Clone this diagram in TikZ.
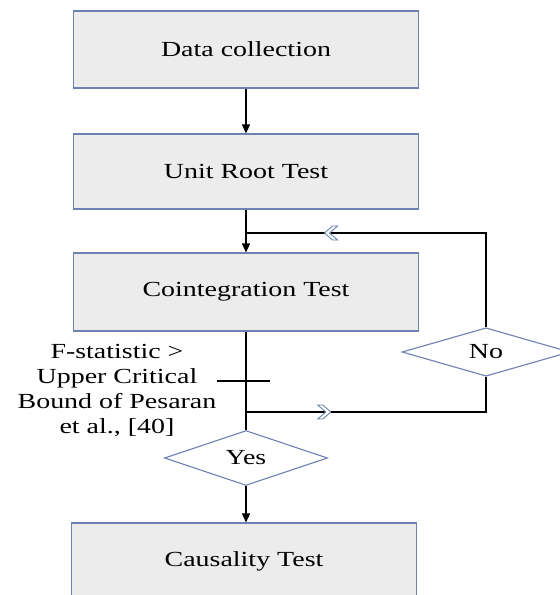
\documentclass[tikz,border=0pt]{standalone}
\usepackage{fontspec}
\setmainfont[FakeStretch=1.3]{Liberation Serif}
\usepackage{xcolor}
\usetikzlibrary{shapes.geometric, arrows.meta, positioning, calc, decorations.markings}
\definecolor{boxbg}{RGB}{236,236,237}
\definecolor{boxline}{RGB}{108,130,178}

\begin{document}
\begin{tikzpicture}[x=1pt, y=-1pt,
  box/.style={rectangle, minimum width=345pt, minimum height=77pt, draw=boxline, line width=1.1pt, fill=boxbg, font=\fontsize{21.5}{25}\selectfont},
  choice/.style={diamond, minimum width=163pt, minimum height=39pt, inner sep=0pt, draw=boxline, line width=1.1pt, fill=white, font=\fontsize{21.5}{25}\selectfont},
  arr/.style={-{Triangle[length=9pt, width=8pt]}, line width=1.2pt, black},
  ln/.style={line width=1.2pt, black},
  chev/.style={postaction={decorate}, decoration={markings, mark=at position #1 with {\draw[boxline, fill=white, line width=0.9pt] (-8,-7) -- (-3,-7) -- (5,0) -- (-3,7) -- (-8,7) -- (0,0) -- cycle;}}}
]
\clip (0,0) rectangle (560,595);
\fill[white] (0,0) rectangle (560,595);

% Main column
\node[box] (data) at (246,49.5) {Data collection};
\node[box, minimum height=75pt] (unit) at (246,171.5) {Unit Root Test};
\node[box, minimum height=78pt] (coint) at (246,292) {Cointegration Test};
\node[choice] (yes) at (246,458) {Yes};
\node[box] (caus) at (244,561.5) {Causality Test};

% Loop back
\node[choice, minimum width=168pt] (no) at (486,352) {No};
\coordinate (jtop) at (246,233);
\coordinate (jbot) at (246,412);

% Condition label
\node[font=\fontsize{21.5}{25}\selectfont, align=center] (cond) at (117,391) {F-statistic >\\Upper Critical\\Bound of Pesaran\\et al., [40]};
\coordinate (tickl) at (217,381);
\coordinate (tickr) at (270,381);

\draw[arr] (data) -- (unit);
\draw[arr] (unit) -- (coint);
\draw[ln] (coint) -- (yes);
\draw[arr] (yes) -- (yes |- caus.north);
\draw[ln] (tickl) -- (tickr);
\draw[ln, chev=0.75] (no.north) |- (jtop);
\draw[ln, chev=0.29] (jbot) -| (no.south);
\end{tikzpicture}
\end{document}
